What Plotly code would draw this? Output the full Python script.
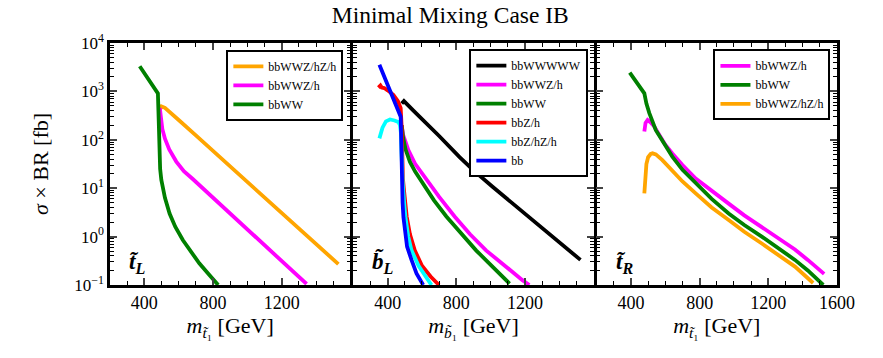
import plotly.graph_objects as go
from plotly.subplots import make_subplots

# ---- panel 1: stop L ----
tl_orange_m = [490, 500, 520, 550, 600, 700, 800, 900, 1000, 1100, 1200, 1300, 1400, 1530]
tl_orange = [417, 490, 457, 372, 257, 123, 59, 28, 13.5, 6.5, 3.1, 1.48, 0.71, 0.27]
tl_magenta_m = [490, 495, 505, 520, 545, 586, 630, 682, 725, 800, 900, 1000, 1100, 1200, 1300, 1345]
tl_magenta = [457, 282, 166, 105, 63, 35.5, 22.4, 15.5, 11.2, 6.6, 3.1, 1.45, 0.68, 0.32, 0.148, 0.105]
tl_green_m = [373, 479, 482, 485, 488, 492, 499, 520, 547, 580, 624, 670, 720, 770, 830]
tl_green = [3300, 910, 400, 126, 45, 25, 14.8, 6.3, 3.0, 1.6, 0.85, 0.5, 0.28, 0.174, 0.1]

# ---- panel 2: sbottom L ----
bl_black_m = [482, 495, 550, 626, 700, 819, 900, 1011, 1100, 1205, 1300, 1400, 1523]
bl_black = [560, 630, 400, 224, 120, 44, 23.4, 10.7, 5.8, 2.8, 1.5, 0.76, 0.33]
bl_magenta_m = [482, 490, 505, 520, 560, 600, 645, 700, 790, 880, 973, 1080, 1185, 1225]
bl_magenta = [200, 126, 89, 62, 32, 20, 12, 6.6, 2.6, 1.12, 0.52, 0.25, 0.126, 0.1]
bl_green_m = [482, 490, 505, 530, 560, 607, 670, 742, 830, 915, 1000, 1089, 1110]
bl_green = [200, 112, 62, 35, 22, 12.6, 5.6, 2.6, 1.12, 0.52, 0.26, 0.126, 0.107]
bl_red_m = [346, 358, 366, 380, 400, 433, 460, 476, 481, 484, 489, 494, 511, 530, 558, 600, 650, 699]
bl_red = [1200, 1320, 1200, 1175, 1050, 850, 630, 450, 200, 50, 16, 10, 2.6, 1.12, 0.52, 0.25, 0.15, 0.1]
bl_cyan_m = [352, 370, 390, 414, 440, 462, 472, 477, 480, 483, 488, 496, 503, 520, 539, 580, 620, 655]
bl_cyan = [107, 178, 240, 263, 251, 234, 200, 141, 63, 25, 12.6, 5.0, 2.6, 1.0, 0.52, 0.25, 0.15, 0.1]
bl_blue_m = [352, 476, 479, 481, 483, 487, 492, 501, 513, 539, 568, 607]
bl_blue = [3550, 300, 100, 32, 12.6, 5.0, 2.5, 1.17, 0.62, 0.33, 0.174, 0.1]

# ---- panel 3: stop R ----
tr_magenta_m = [478, 485, 497, 515, 535, 560, 600, 641, 700, 777, 870, 969, 1060, 1162, 1260, 1355, 1430, 1525]
tr_magenta = [148, 224, 257, 229, 190, 132, 79, 52, 30, 15.8, 8.7, 4.8, 2.75, 1.58, 0.93, 0.54, 0.33, 0.17]
tr_green_m = [393, 478, 490, 507, 545, 590, 641, 700, 777, 870, 969, 1060, 1162, 1260, 1355, 1430, 1509, 1520]
tr_green = [2450, 910, 560, 355, 158, 85, 45, 24, 12.6, 6.0, 3.0, 1.74, 1.0, 0.575, 0.33, 0.2, 0.11, 0.1]
tr_orange_m = [478, 482, 490, 500, 515, 526, 545, 583, 650, 700, 777, 870, 969, 1060, 1162, 1260, 1355, 1461]
tr_orange = [7.8, 15.8, 31.6, 43.7, 51, 52.5, 50, 38, 21.4, 13.8, 7.8, 4.0, 2.2, 1.26, 0.72, 0.42, 0.24, 0.11]

y_ticks = [0.1, 1, 10, 100, 1000, 10000]
y_labels = ["10<sup>\u22121</sup>", "10<sup>0</sup>", "10<sup>1</sup>", "10<sup>2</sup>",
            "10<sup>3</sup>", "10<sup>4</sup>"]
y_minor = [k * 10.0 ** e for e in range(-1, 4) for k in range(2, 10)]

FONT = "Liberation Serif"

fig = make_subplots(rows=1, cols=3, shared_yaxes=True, horizontal_spacing=0.004)

def add(col, m, v, color, name, leg):
    fig.add_trace(go.Scatter(x=m, y=v, mode="lines", name=name,
                             line=dict(color=color, width=3.8),
                             legend=leg), row=1, col=col)

add(1, tl_orange_m, tl_orange, "#FFA500", "bbWWZ/hZ/h", "legend")
add(1, tl_magenta_m, tl_magenta, "#FF00FF", "bbWWZ/h", "legend")
add(1, tl_green_m, tl_green, "#008000", "bbWW", "legend")

add(2, bl_black_m, bl_black, "#000000", "bbWWWWW", "legend2")
add(2, bl_magenta_m, bl_magenta, "#FF00FF", "bbWWZ/h", "legend2")
add(2, bl_green_m, bl_green, "#008000", "bbWW", "legend2")
add(2, bl_red_m, bl_red, "#FF0000", "bbZ/h", "legend2")
add(2, bl_cyan_m, bl_cyan, "#00FFFF", "bbZ/hZ/h", "legend2")
add(2, bl_blue_m, bl_blue, "#0000FF", "bb", "legend2")

add(3, tr_magenta_m, tr_magenta, "#FF00FF", "bbWWZ/h", "legend3")
add(3, tr_green_m, tr_green, "#008000", "bbWW", "legend3")
add(3, tr_orange_m, tr_orange, "#FFA500", "bbWWZ/hZ/h", "legend3")

xtitles = ["<i>m</i><sub><i>t\u0303</i>\u2081</sub> [GeV]",
           "<i>m</i><sub><i>b\u0303</i>\u2081</sub> [GeV]",
           "<i>m</i><sub><i>t\u0303</i>\u2081</sub> [GeV]"]
for i in range(3):
    ticks = [400, 800, 1200, 1600] if i == 2 else [400, 800, 1200]
    fig.update_xaxes(range=[200, 1600], tickvals=ticks, ticks="inside", ticklen=7, tickwidth=1.5,
                     showline=True, linewidth=2.5, linecolor="black", mirror="allticks",
                     showgrid=False, zeroline=False, automargin=False,
                     minor=dict(tick0=0, dtick=100, ticks="inside", ticklen=4, tickwidth=1.2,
                                tickcolor="black", showgrid=False),
                     tickfont=dict(family=FONT, size=18, color="black"),
                     title=dict(text=xtitles[i], font=dict(family=FONT, size=22, color="black"),
                                standoff=3),
                     row=1, col=i + 1)
    fig.update_yaxes(type="log", range=[-1, 4], tickvals=y_ticks, ticktext=y_labels,
                     ticks="inside", ticklen=7, tickwidth=1.5,
                     showline=True, linewidth=2.5, linecolor="black", mirror="allticks",
                     showgrid=False, zeroline=False, showticklabels=(i == 0), automargin=False,
                     minor=dict(tickvals=y_minor, ticks="inside", ticklen=4, tickwidth=1.2,
                                tickcolor="black", showgrid=False),
                     tickfont=dict(family=FONT, size=17, color="black"),
                     row=1, col=i + 1)

fig.update_yaxes(title=dict(text="<i>\u03c3</i> \u00d7 BR [fb]",
                            font=dict(family=FONT, size=22, color="black"), standoff=20),
                 row=1, col=1)

# panel labels
labels = ["t\u0303", "b\u0303", "t\u0303"]
subs = ["L", "L", "R"]
for i in range(3):
    fig.add_annotation(x=300, y=-0.55, xref="x" + ("" if i == 0 else str(i + 1)),
                       yref="y" + ("" if i == 0 else str(i + 1)),
                       text="<b><i>%s</i><sub><i>%s</i></sub></b>" % (labels[i], subs[i]),
                       showarrow=False, xanchor="left", yanchor="middle",
                       font=dict(family=FONT, size=23, color="black"))

leg_style = dict(bgcolor="white", bordercolor="black", borderwidth=2,
                 font=dict(family=FONT, size=12, color="black"),
                 xanchor="right", yanchor="top", tracegroupgap=0, itemwidth=30)
fig.update_layout(
    width=883, height=358,
    margin=dict(l=110, r=46, t=43, b=73),
    paper_bgcolor="white", plot_bgcolor="white",
    title=dict(text="Minimal Mixing Case IB", x=0.51, xanchor="center", y=0.958, yanchor="middle",
               font=dict(family=FONT, size=23.5, color="black")),
    legend=dict(x=0.321, y=0.972, **leg_style),
    legend2=dict(x=0.658, y=0.975, **leg_style),
    legend3=dict(x=0.991, y=0.974, **leg_style),
)

# drop the default page margin so the figure sits at the window's corner
fig.write_html("out.html", config={"displayModeBar": False},
               post_script="document.body.style.margin='0';")
